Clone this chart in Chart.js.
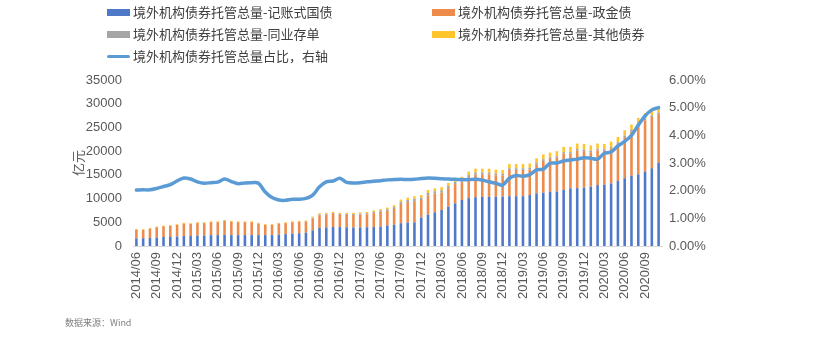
<!DOCTYPE html>
<html><head><meta charset="utf-8">
<script src="https://cdn.jsdelivr.net/npm/chart.js@4.4.1/dist/chart.umd.min.js"></script>
<style>
body{margin:0;background:#fff;}
#wrap{position:relative;width:828px;height:345px;overflow:hidden;font-family:"Noto Sans CJK SC","Noto Sans",sans-serif;background:#fff;}
canvas{position:absolute;left:0;top:0;}
.lg{position:absolute;font-size:13px;color:#404040;line-height:16px;white-space:nowrap;}
.sw{position:absolute;left:-26px;width:23px;}
#src{position:absolute;left:65px;top:316px;font-size:9px;color:#7f7f7f;}
</style></head>
<body>
<div id="wrap">
<canvas id="c" width="828" height="345"></canvas>
<div id="legend"></div>
<div id="src">数据来源：Wind</div>
</div>
<script>
const months = ['2014/06','2014/07','2014/08','2014/09','2014/10','2014/11','2014/12',
'2015/01','2015/02','2015/03','2015/04','2015/05','2015/06','2015/07','2015/08','2015/09','2015/10','2015/11','2015/12',
'2016/01','2016/02','2016/03','2016/04','2016/05','2016/06','2016/07','2016/08','2016/09','2016/10','2016/11','2016/12',
'2017/01','2017/02','2017/03','2017/04','2017/05','2017/06','2017/07','2017/08','2017/09','2017/10','2017/11','2017/12',
'2018/01','2018/02','2018/03','2018/04','2018/05','2018/06','2018/07','2018/08','2018/09','2018/10','2018/11','2018/12',
'2019/01','2019/02','2019/03','2019/04','2019/05','2019/06','2019/07','2019/08','2019/09','2019/10','2019/11','2019/12',
'2020/01','2020/02','2020/03','2020/04','2020/05','2020/06','2020/07','2020/08','2020/09','2020/10','2020/11'];

const tickLabels = ['2014/06','2014/09','2014/12','2015/03','2015/06','2015/09','2015/12','2016/03','2016/06','2016/09','2016/12',
'2017/03','2017/06','2017/09','2017/12','2018/03','2018/06','2018/09','2018/12','2019/03','2019/06','2019/09','2019/12',
'2020/03','2020/06','2020/09'];

// 记账式国债 (亿元)
const govBonds = [1600,1650,1700,1800,1900,1900,2000,2100,2100,2200,2200,2300,2300,2400,2300,2300,2300,2300,2300,
2300,2300,2400,2500,2600,2700,2800,3300,3800,3900,4000,4000,
3950,3900,3900,3950,4000,4100,4300,4500,4800,4950,5000,6000,
6600,7100,7600,8300,9000,9700,10100,10300,10350,10400,10400,10400,
10500,10500,10500,10750,11100,11250,11450,11500,11800,12150,12200,12300,
12500,12850,12950,13200,13700,14300,14800,15100,15700,16400,17600];

// 政金债 (亿元)
const policyBonds = [1850,1750,1950,2150,2250,2340,2440,2630,2530,2630,2620,2720,2720,2920,2820,2720,2720,2720,2430,
2130,2130,2330,2320,2420,2420,2300,2500,2700,2700,2750,2550,
2600,2640,2690,2720,2900,3100,3100,3300,4050,4300,4450,3700,
4100,3950,3650,3900,4050,3750,4400,4750,4750,4700,4500,4450,
5550,5550,5550,5400,6100,6700,6900,7100,7650,7300,7900,7700,
7250,7300,7100,7350,7850,8650,9350,10400,10800,10800,10200];

// 同业存单 (亿元)
const ncds = [0,0,0,0,0,0,0,0,0,0,0,0,0,0,0,0,0,0,0,
0,0,0,0,0,0,100,150,150,150,200,200,
200,200,250,250,300,300,350,400,450,450,500,500,
500,500,500,450,450,450,450,450,400,400,400,350,
350,350,350,350,350,350,350,350,350,350,350,350,
350,350,350,350,350,350,350,350,350,350,350];

// 其他债券 (亿元)
const otherBonds = [150,150,150,150,150,160,160,170,170,170,180,180,180,180,180,180,180,180,170,
170,170,170,180,180,180,200,250,250,250,250,250,
250,260,260,280,300,300,350,400,500,500,550,550,
600,600,650,650,700,700,750,800,800,800,800,800,
900,900,900,900,950,1000,1000,1050,1100,1100,1150,1150,
1100,1100,1100,1100,1100,1100,1100,1150,1150,1150,1150];

// 境外机构债券托管总量占比 (%)
const shareRatio = [2.02,2.03,2.03,2.08,2.15,2.22,2.35,2.46,2.42,2.32,2.27,2.29,2.31,2.42,2.33,2.25,2.28,2.29,2.27,
1.95,1.75,1.66,1.65,1.69,1.69,1.72,1.84,2.14,2.32,2.35,2.45,
2.30,2.28,2.29,2.32,2.34,2.36,2.39,2.40,2.41,2.40,2.41,2.44,
2.46,2.45,2.43,2.42,2.41,2.40,2.40,2.41,2.38,2.32,2.27,2.20,
2.45,2.55,2.52,2.58,2.75,2.78,2.99,3.00,3.07,3.11,3.14,3.19,
3.17,3.14,3.35,3.40,3.62,3.78,4.00,4.37,4.70,4.92,5.00];

const seriesNames = ['境外机构债券托管总量-记账式国债','境外机构债券托管总量-政金债','境外机构债券托管总量-同业存单','境外机构债券托管总量-其他债券','境外机构债券托管总量占比，右轴'];
const seriesColors = ['#4F78C9','#EE8A4A','#A5A5A5','#FFC52A','#5B9BD5'];

const barCommon = {type:'bar', yAxisID:'y', stack:'s', barPercentage:0.38, categoryPercentage:1.0, order:1, borderWidth:0};
const datasets = [
  Object.assign({label:seriesNames[0], data:govBonds, backgroundColor:seriesColors[0]}, barCommon),
  Object.assign({label:seriesNames[1], data:policyBonds, backgroundColor:seriesColors[1]}, barCommon),
  Object.assign({label:seriesNames[2], data:ncds, backgroundColor:seriesColors[2]}, barCommon),
  Object.assign({label:seriesNames[3], data:otherBonds, backgroundColor:seriesColors[3]}, barCommon),
  {type:'line', label:seriesNames[4], data:shareRatio, yAxisID:'y1', borderColor:seriesColors[4], borderWidth:3.5,
   pointRadius:0, tension:0.3, order:0, fill:false, borderCapStyle:'round', borderJoinStyle:'round'}
];

// HTML legend
const lgPos = [[133,12],[458,12],[133,34],[458,34],[133,56]];
const lg = document.getElementById('legend');
seriesNames.forEach((n,i)=>{
  const d = document.createElement('div');
  d.className='lg';
  d.style.left = lgPos[i][0]+'px';
  d.style.top = (lgPos[i][1]-8)+'px';
  const s = document.createElement('span');
  s.className='sw';
  const h = i===4 ? 3 : 7;
  s.style.height = h+'px';
  s.style.top = (8-h/2)+'px';
  s.style.background = seriesColors[i];
  if(i===4) s.style.borderRadius='2px';
  d.appendChild(s);
  d.appendChild(document.createTextNode(n));
  lg.appendChild(d);
});

const tickFont = {family:'"Liberation Sans", Arial, sans-serif', size:13};
new Chart(document.getElementById('c'), {
  data:{labels:months, datasets:datasets},
  options:{
    responsive:false, animation:false,
    layout:{padding:{top:80,left:0,right:0,bottom:0}},
    plugins:{legend:{display:false}, tooltip:{enabled:false}},
    scales:{
      x:{stacked:true, offset:true,
         grid:{display:false, drawTicks:false},
         border:{display:true, color:'#d9d9d9'},
         ticks:{autoSkip:false, maxRotation:90, minRotation:90, padding:6, color:'#595959', font:tickFont,
                callback:(v,i)=> tickLabels.includes(months[i]) ? months[i] : ''},
         afterFit:(s)=>{s.height=99;}
      },
      y:{stacked:true, position:'left', min:0, max:35000,
         grid:{display:false, drawTicks:false}, border:{display:false},
         ticks:{stepSize:5000, padding:11, color:'#595959', font:tickFont, callback:(v)=>String(v)},
         title:{display:true, text:'亿元', color:'#595959', padding:{top:70,bottom:0},
                font:{family:'"Noto Sans CJK SC", sans-serif', size:13}},
         afterFit:(s)=>{s.width=133;}
      },
      y1:{position:'right', min:0, max:6,
         grid:{display:false, drawTicks:false}, border:{display:false},
         ticks:{stepSize:1, padding:7, color:'#595959', font:tickFont, callback:(v)=>v.toFixed(2)+'%'},
         afterFit:(s)=>{s.width=166;}
      }
    }
  }
});
</script>
</body></html>
